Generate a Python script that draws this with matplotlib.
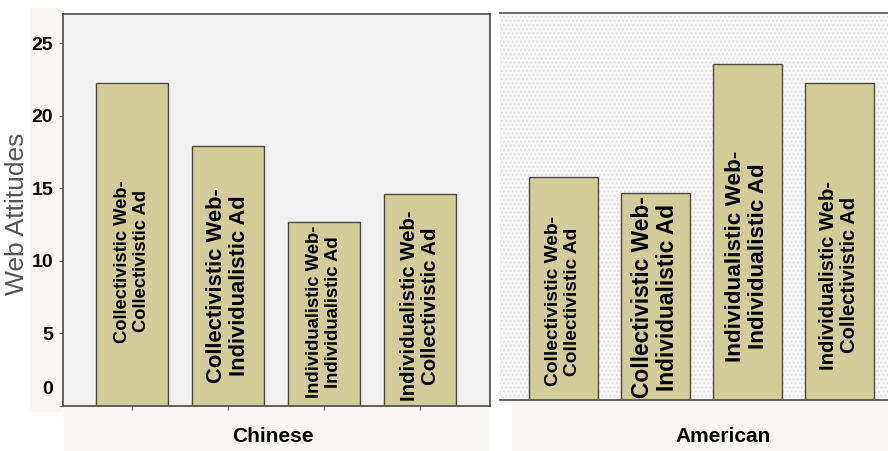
import matplotlib.pyplot as plt
from matplotlib.patches import Rectangle
from matplotlib.transforms import ScaledTranslation

plt.rcParams['font.family'] = ['Liberation Sans', 'DejaVu Sans']
plt.rcParams['hatch.linewidth'] = 1.0

# web attitude means per condition
conditions = ["Collectivistic Web-\nCollectivistic Ad",
              "Collectivistic Web-\nIndividualistic Ad",
              "Individualistic Web-\nIndividualistic Ad",
              "Individualistic Web-\nCollectivistic Ad"]
chinese = [22.3, 17.9, 12.7, 14.6]
american = [15.4, 14.3, 23.2, 21.9]
y_ticks = [0, 5, 10, 15, 20, 25]

# where the rotated labels sit inside each bar, and their sizes
chinese_lbl_y = [9.97, 8.3, 6.5, 6.9]
american_lbl_y = [6.8, 7.1, 9.9, 8.6]
chinese_lbl_fs = [13.2, 15.8, 13.3, 14.7]
american_lbl_fs = [13.8, 16.4, 16.2, 14.6]

BAR = '#d3cc98'
EDGE = '#4a4a44'
W, H = 888, 451

fig = plt.figure(figsize=(W / 100, H / 100), dpi=100)
fig.patch.set_facecolor('white')


def px_box(x0, y0, x1, y1):
    # pixel box (top-left origin) -> figure fraction rect
    return [x0 / W, 1 - y1 / H, (x1 - x0) / W, (y1 - y0) / H]


# soft pink strips under the panels and behind the tick labels
for x0, y0, x1, y1 in [(64, 406, 489, 451), (512, 400, 888, 451), (30, 8, 62, 412)]:
    fig.patches.append(Rectangle((x0 / W, 1 - y1 / H), (x1 - x0) / W, (y1 - y0) / H,
                                 transform=fig.transFigure, facecolor='#f9f6f6',
                                 edgecolor='none', zorder=-5))

ax1 = fig.add_axes(px_box(63, 14, 490, 406))
ax2 = fig.add_axes(px_box(500, 13, 888, 400))

x = range(len(conditions))

# Chinese panel
ax1.set_facecolor('#f0f0f1')
ax1.bar(x, chinese, width=0.75, color=BAR, edgecolor=EDGE, linewidth=1.0, zorder=2)
ax1.set_xlim(-0.72, 3.73)
ax1.set_ylim(0, 27.03)
ax1.set_yticks(y_ticks)
ax1.set_yticklabels([str(t) for t in y_ticks], fontsize=14, fontweight='bold')
ax1.set_xticks(list(x))
ax1.set_xticklabels([])
ax1.tick_params(axis='both', length=3, width=0.8, color='#777777', pad=4)
for s in ax1.spines.values():
    s.set_color('#555555')
    s.set_linewidth(1.3)
ax1.set_ylabel('Web Attitudes', fontsize=19, color='#555555', va='center')
ax1.yaxis.set_label_coords(-0.108, 0.49)
# pull the zero label up off the baseline
zero_lbl = ax1.get_yticklabels()[0]
zero_lbl.set_transform(zero_lbl.get_transform() +
                       ScaledTranslation(0, 0.19, fig.dpi_scale_trans))

for i, (txt, yy, fs) in enumerate(zip(conditions, chinese_lbl_y, chinese_lbl_fs)):
    ax1.text(i, yy, txt, rotation=90, ha='center', va='center', fontsize=fs,
             fontweight='bold', linespacing=1.15, zorder=3)

# American panel
ax2.set_facecolor('#f8f8f8')
ax2.add_patch(Rectangle((0, 0), 1, 1, transform=ax2.transAxes, facecolor='none',
                        edgecolor='#e0e0e0', hatch='....', linewidth=0, zorder=0))
ax2.bar(x, american, width=0.75, color=BAR, edgecolor=EDGE, linewidth=1.0, zorder=2)
ax2.set_xlim(-0.685, 3.53)
ax2.set_ylim(0, 26.7)
ax2.set_xticks([])
ax2.set_yticks([])
for side in ['left', 'right']:
    ax2.spines[side].set_visible(False)
ax2.spines['top'].set_color('#666666')
ax2.spines['bottom'].set_color('#555555')
ax2.spines['top'].set_linewidth(1.3)
ax2.spines['bottom'].set_linewidth(1.3)

for i, (txt, yy, fs) in enumerate(zip(conditions, american_lbl_y, american_lbl_fs)):
    ax2.text(i, yy, txt, rotation=90, ha='center', va='center', fontsize=fs,
             fontweight='bold', linespacing=1.15, zorder=3)

# group names under each panel
fig.text(273 / W, 1 - 437 / H, 'Chinese', ha='center', va='center',
         fontsize=15, fontweight='bold')
fig.text(723 / W, 1 - 437 / H, 'American', ha='center', va='center',
         fontsize=15, fontweight='bold')

fig.savefig('out.png', dpi=100)
